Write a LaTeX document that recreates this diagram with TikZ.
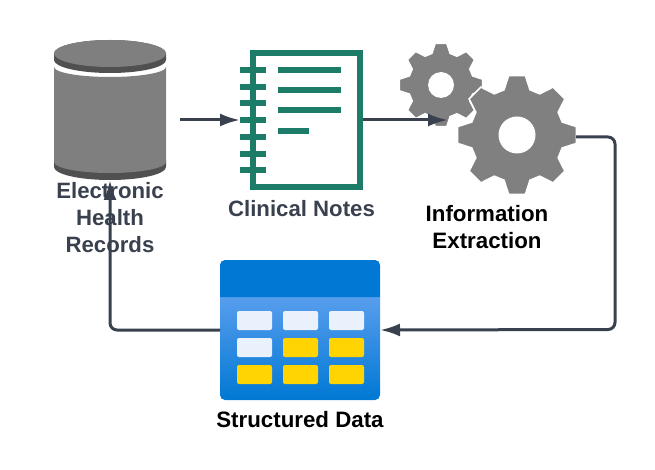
\documentclass[tikz,border=0pt]{standalone}
\usepackage{fontspec}
\setmainfont{Liberation Sans}
\usetikzlibrary{arrows.meta,positioning}
\definecolor{edgecol}{RGB}{58, 65, 78}
\definecolor{cylgray}{RGB}{127, 127, 127}
\definecolor{cyldark}{RGB}{80, 80, 80}
\definecolor{notegreen}{RGB}{28, 124, 104}
\definecolor{gearcol}{RGB}{128, 128, 128}
\definecolor{tabletop}{RGB}{0, 120, 212}
\definecolor{tablelight}{RGB}{94, 160, 239}
\definecolor{cellwhite}{RGB}{233, 242, 252}
\definecolor{cellyellow}{RGB}{255, 212, 0}
\tikzstyle{icon} = [rectangle, draw=none, fill=none, inner sep=0pt, outer sep=0pt]
\tikzstyle{darklabel} = [draw=none, fill=none, align=center, text=edgecol, inner sep=0pt, font=\fontsize{22.2}{27}\selectfont\bfseries]
\tikzstyle{blacklabel} = [draw=none, fill=none, align=center, text=black, inner sep=0pt, font=\fontsize{22.3}{27}\selectfont\bfseries]
\tikzstyle{notebar} = [draw=notegreen, line width=6pt]
\tikzstyle{gear} = [fill=gearcol, draw=white, line width=1.5pt]
\tikzstyle{cell} = [rounded corners=2pt, line width=0.5pt]
\tikzstyle{tedge} = [draw=edgecol, line width=3pt, rounded corners=7pt, -{Latex[length=20pt,width=13pt]}]
\newcommand{\gearicon}[2]{%
  \begin{scope}[shift={(#1)}, scale=#2]
    \path[gear] (74:47) \foreach \ang in {90,135,...,405} {-- (\ang-16:47) -- (\ang-8:60) -- (\ang+8:60) -- (\ang+16:47)} -- cycle;
    \fill[white] (0,0) circle (18.5);
  \end{scope}}

\begin{document}
\begin{tikzpicture}[x=1pt, y=-1pt]
\useasboundingbox (0,0) rectangle (655,470);

% icons =============================

% cylinder
\node[icon, minimum width=112pt, minimum height=140pt] (ehr) at (110,110) {};
\fill[cyldark] (54,60) arc[start angle=180, end angle=0, x radius=56, y radius=13] -- (166,53.5) arc[start angle=0, end angle=-180, x radius=56, y radius=13.5] -- cycle;
\fill[cylgray] (110,53.5) ellipse[x radius=56, y radius=13.5];
\fill[cyldark] (54,160) -- (54,167) arc[start angle=180, end angle=0, x radius=56, y radius=13] -- (166,160) -- cycle;
\fill[cylgray] (54,67) arc[start angle=180, end angle=0, x radius=56, y radius=10] -- (166,162) arc[start angle=0, end angle=180, x radius=56, y radius=11] -- cycle;

% notebook
\node[icon, minimum width=123pt, minimum height=141pt] (notes) at (301.5,120) {};
\draw[notegreen, line width=6pt] (253,53) rectangle (360,187.5);
\foreach \y in {70,87,103,120,137,154,170} \draw[notebar] (240,\y) -- (266,\y);
\foreach \y/\xend in {70/341,90/341,110/341,131/309} \draw[notebar] (278,\y) -- (\xend,\y);

% gears
\node[icon, minimum width=118pt, minimum height=118pt] (gearbig) at (517,135) {};
\gearicon{441,85}{0.7}
\gearicon{517,135}{1}

% table
\node[icon, minimum width=160pt, minimum height=140pt] (tabledata) at (300,330) {};
\shade[top color=tablelight, bottom color=tabletop, rounded corners=5pt] (220,290) [sharp corners] -- (220,297) -- (380,297) [rounded corners=5pt] -- (380,400) -- (220,400) -- cycle;
\fill[tabletop] (220,297) [rounded corners=5pt] -- (220,260) -- (380,260) [sharp corners] -- (380,297) -- cycle;
\foreach \x/\y/\col in {237/311/cellwhite,283/311/cellwhite,329/311/cellwhite,
  237/338/cellwhite,283/338/cellyellow,329/338/cellyellow,
  237/365/cellyellow,283/365/cellyellow,329/365/cellyellow}
  \fill[cell, \col] (\x,\y) rectangle (\x+35,\y+19);

% free ends of the edges
\coordinate (ehrout) at (180,120);
\coordinate (gearin) at (448,120);
\coordinate (turnright) at (615,329.5);

% edges ============================

\path[tedge] (ehrout) -- (notes.west);
\path[tedge] (notes.east) -- (gearin);
\path[tedge] ([yshift=-2pt]gearbig.east) -| (turnright) -- (tabledata.east);
\path[tedge] (tabledata.west) -| (ehr.south);

% text only
\node[darklabel, below=2pt of ehr] (ehrtext) {Electronic\\Health\\Records};
\node[darklabel, below=9.5pt of notes] (notestext) {Clinical Notes};
\node[blacklabel] (geartext) at (487,227) {Information\\Extraction};
\node[blacklabel, below=11.5pt of tabledata] (datatext) {Structured Data};

\end{tikzpicture}
\end{document}
